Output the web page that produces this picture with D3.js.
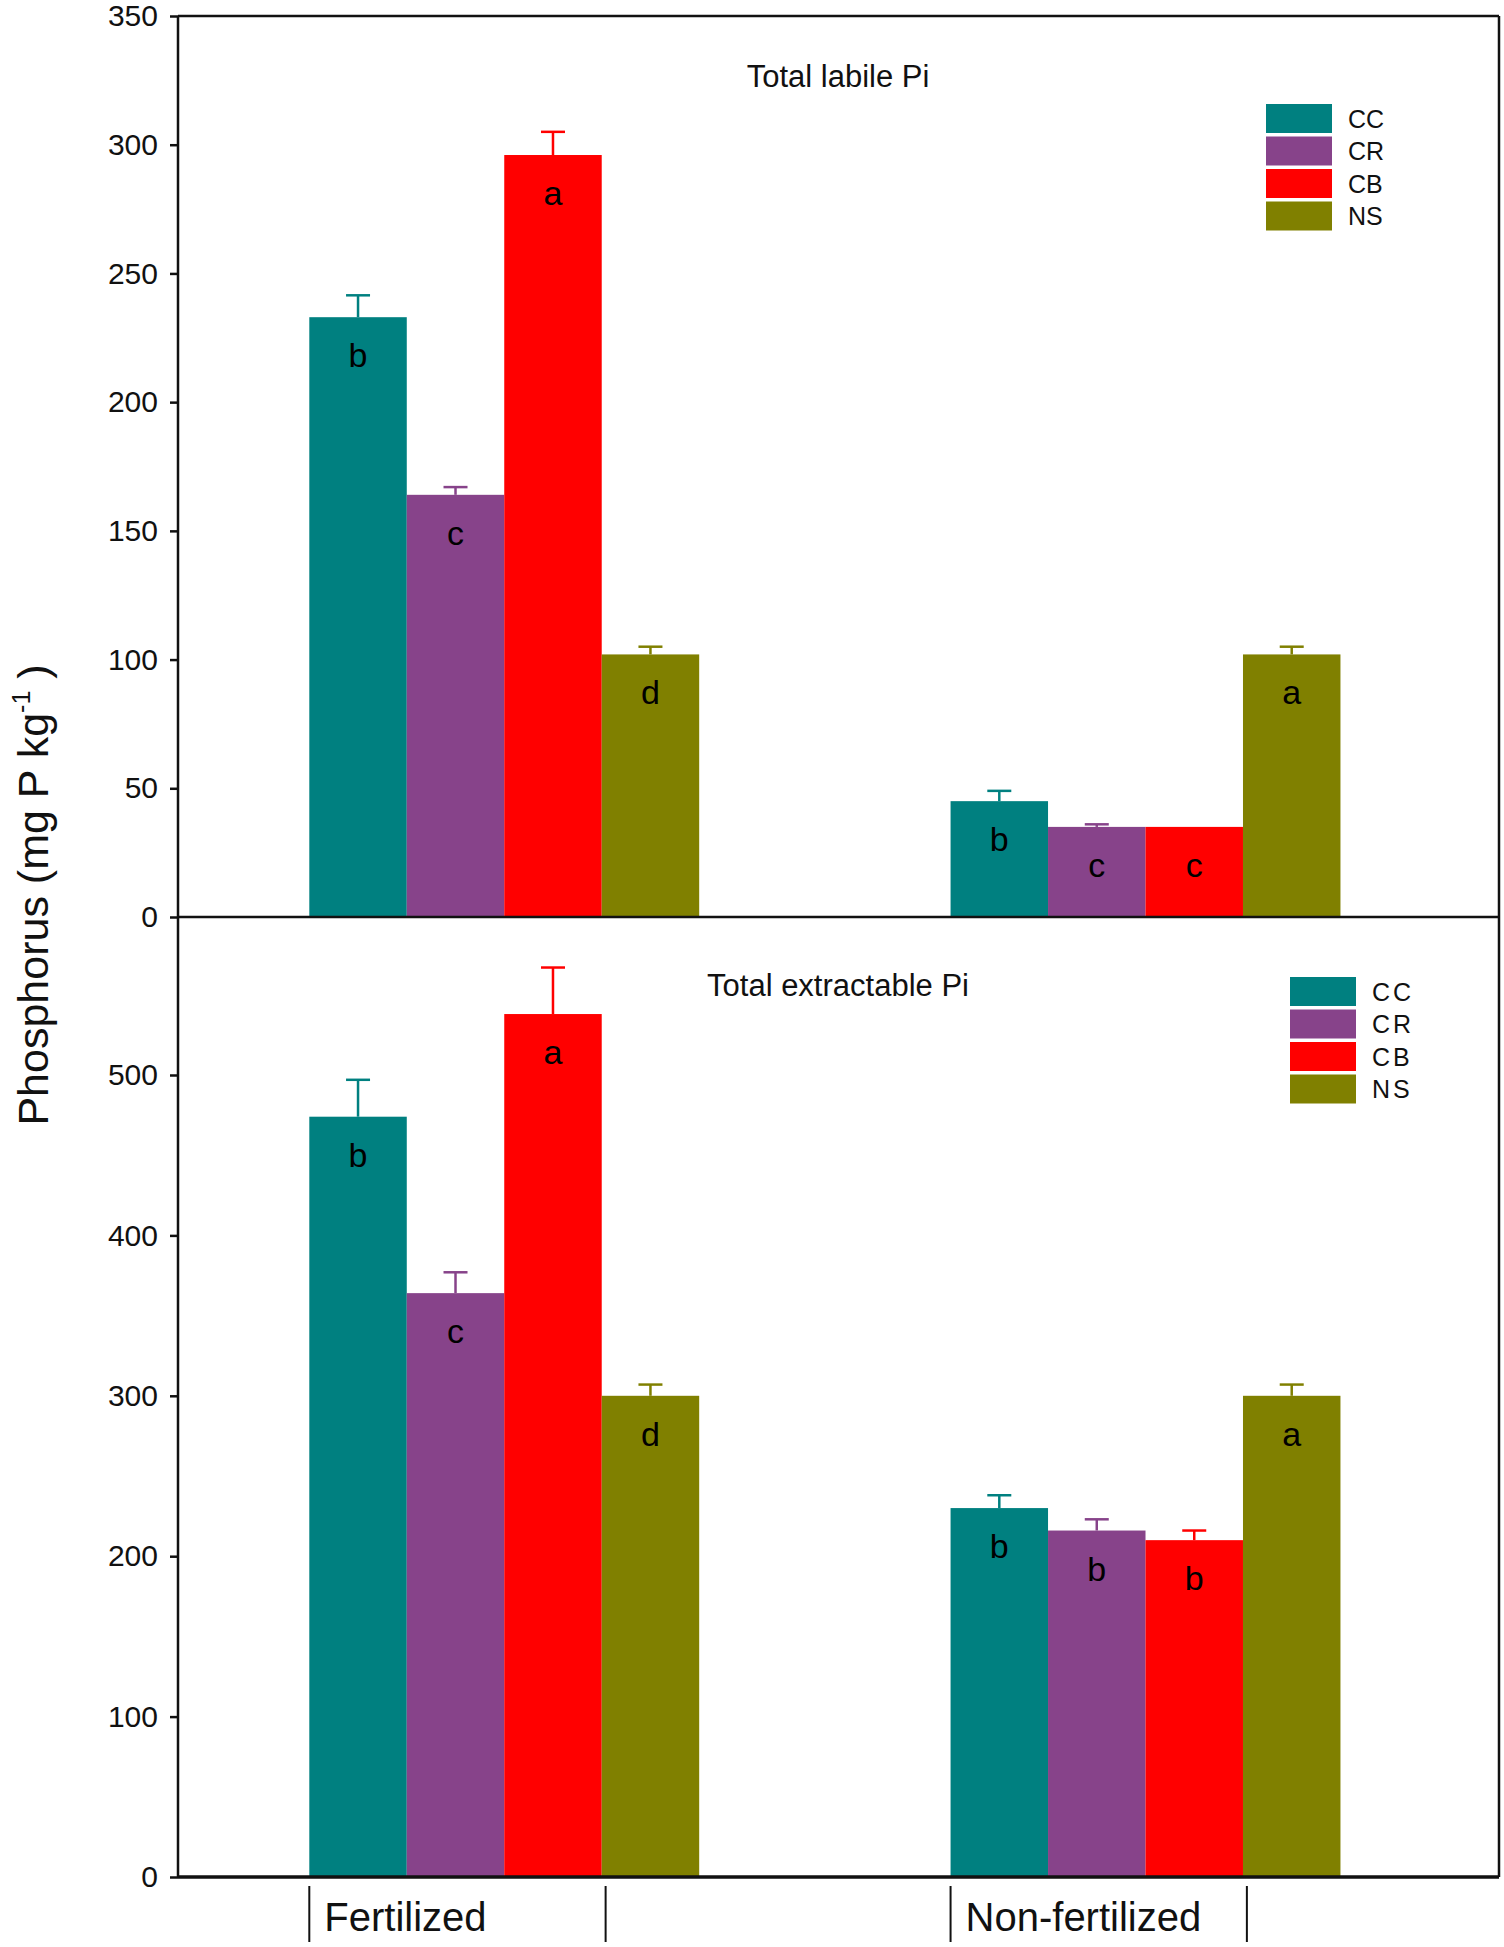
<!DOCTYPE html>
<html>
<head>
<meta charset="utf-8">
<script src="https://cdn.jsdelivr.net/npm/d3@7"></script>
<style>
  body { margin: 0; background: #fff; }
  text { font-family: "Liberation Sans", Arial, sans-serif; fill: #111; }
</style>
</head>
<body>
<svg id="chart"></svg>
<script>
const groups = ["Fertilized", "Non-fertilized"];
const treatments = ["CC", "CR", "CB", "NS"];
const colors = ["#008080", "#87438a", "#ff0000", "#808000"];

// Total labile Pi (top panel)
const labileFert = [233, 164, 296, 102];
const labileFertErr = [8.5, 3, 9, 3];
const labileFertLetters = ["b", "c", "a", "d"];
const labileNon = [45, 35, 35, 102];
const labileNonErr = [4, 1, 0, 3];
const labileNonLetters = ["b", "c", "c", "a"];
const labileTicks = [0, 50, 100, 150, 200, 250, 300, 350];

// Total extractable Pi (bottom panel)
const extFert = [474, 364, 538, 300];
const extFertErr = [23, 13, 29, 7];
const extFertLetters = ["b", "c", "a", "d"];
const extNon = [230, 216, 210, 300];
const extNonErr = [8, 7, 6, 7];
const extNonLetters = ["b", "b", "b", "a"];
const extTicks = [0, 100, 200, 300, 400, 500];

const W = 1504, H = 1947;
const plotLeft = 178, plotRight = 1499, plotTop = 16, plotMid = 917, plotBottom = 1877;

const svg = d3.select("#chart").attr("width", W).attr("height", H);

const x0 = d3.scaleBand().domain(groups).range([plotLeft, plotRight])
  .paddingInner(0.392).paddingOuter(0.226).align(0.453);
const x1 = d3.scaleBand().domain(treatments).range([0, x0.bandwidth()]);
const color = d3.scaleOrdinal().domain(treatments).range(colors);

function panel(cfg) {
  const y = d3.scaleLinear().domain(cfg.domain).range([cfg.yBottom, cfg.yTop]);
  const rows = [];
  groups.forEach((g, gi) => treatments.forEach((t, ti) => {
    rows.push({ g, t, v: cfg.means[gi][ti], e: cfg.errs[gi][ti], l: cfg.letters[gi][ti] });
  }));
  const cx = d => x0(d.g) + x1(d.t) + x1.bandwidth() / 2;

  const p = svg.append("g");

  // error bars (upper only)
  const eb = p.selectAll(".err").data(rows.filter(d => d.e > 0)).enter().append("g")
    .attr("stroke", d => color(d.t)).attr("stroke-width", 2.5);
  eb.append("line")
    .attr("x1", cx).attr("x2", cx)
    .attr("y1", d => y(d.v)).attr("y2", d => y(d.v + d.e));
  eb.append("line")
    .attr("x1", d => cx(d) - 12).attr("x2", d => cx(d) + 12)
    .attr("y1", d => y(d.v + d.e)).attr("y2", d => y(d.v + d.e));

  p.selectAll("rect").data(rows).enter().append("rect")
    .attr("x", d => x0(d.g) + x1(d.t))
    .attr("width", x1.bandwidth())
    .attr("y", d => y(d.v))
    .attr("height", d => y(0) - y(d.v))
    .attr("fill", d => color(d.t));

  p.selectAll(".letter").data(rows).enter().append("text")
    .attr("class", "letter")
    .attr("x", cx)
    .attr("y", d => y(d.v) + 50)
    .attr("text-anchor", "middle")
    .attr("font-size", 34)
    .style("fill", "#000")
    .text(d => d.l);

  // y axis
  const ax = svg.append("g").attr("transform", `translate(${plotLeft},0)`)
    .call(d3.axisLeft(y).tickValues(cfg.ticks).tickSize(8).tickPadding(12));
  ax.select(".domain").remove();
  ax.selectAll("line").attr("stroke", "#111").attr("stroke-width", 2.5);
  ax.selectAll("text").attr("font-size", 30).attr("font-family", "Liberation Sans, Arial, sans-serif");

  // title
  svg.append("text").attr("x", 838).attr("y", cfg.titleY)
    .attr("text-anchor", "middle").attr("font-size", 31).text(cfg.title);

  // legend
  const lg = svg.append("g").attr("transform", `translate(${cfg.legendX},${cfg.legendY})`);
  treatments.forEach((t, i) => {
    lg.append("rect").attr("x", 0).attr("y", i * 32.5).attr("width", 66).attr("height", 29)
      .attr("fill", color(t));
    lg.append("text").attr("x", 82).attr("y", i * 32.5 + 14.5).attr("dy", "0.36em")
      .attr("font-size", 25).attr("letter-spacing", cfg.legendSpacing).text(t);
  });
}

panel({
  domain: [0, 350], yTop: plotTop, yBottom: plotMid, ticks: labileTicks,
  means: [labileFert, labileNon], errs: [labileFertErr, labileNonErr],
  letters: [labileFertLetters, labileNonLetters],
  title: "Total labile Pi", titleY: 87,
  legendX: 1266, legendY: 104, legendSpacing: 0
});

panel({
  domain: [0, 598.5], yTop: plotMid, yBottom: plotBottom, ticks: extTicks,
  means: [extFert, extNon], errs: [extFertErr, extNonErr],
  letters: [extFertLetters, extNonLetters],
  title: "Total extractable Pi", titleY: 996,
  legendX: 1290, legendY: 977, legendSpacing: 3
});

// frame
const frame = svg.append("g").attr("stroke", "#111").attr("fill", "none");
frame.append("line").attr("x1", plotLeft).attr("x2", plotLeft).attr("y1", plotTop).attr("y2", plotBottom).attr("stroke-width", 2.5);
frame.append("line").attr("x1", plotLeft).attr("x2", plotRight).attr("y1", plotTop).attr("y2", plotTop).attr("stroke-width", 2.5);
frame.append("line").attr("x1", plotRight).attr("x2", plotRight).attr("y1", plotTop).attr("y2", plotBottom).attr("stroke-width", 2.5);
frame.append("line").attr("x1", plotLeft).attr("x2", plotRight).attr("y1", plotMid).attr("y2", plotMid).attr("stroke-width", 2.5);
frame.append("line").attr("x1", plotLeft).attr("x2", plotRight).attr("y1", plotBottom).attr("y2", plotBottom).attr("stroke-width", 3.5);

// category labels with separator ticks
const cat = svg.append("g");
groups.forEach(g => {
  const gx = x0(g);
  [gx, gx + x0.bandwidth() * 0.76].forEach(tx => {
    cat.append("line").attr("x1", tx).attr("x2", tx).attr("y1", 1886).attr("y2", 1942)
      .attr("stroke", "#111").attr("stroke-width", 2);
  });
  cat.append("text").attr("x", gx + 15).attr("y", 1931).attr("font-size", 40).text(g);
});

// y axis title
const yl = svg.append("text")
  .attr("transform", "translate(48,895) rotate(-90)")
  .attr("text-anchor", "middle")
  .attr("font-size", 43);
yl.append("tspan").text("Phosphorus (mg P kg");
yl.append("tspan").attr("font-size", 25).attr("dy", -18).text("-1");
yl.append("tspan").attr("dy", 18).text(" )");
</script>
</body>
</html>
